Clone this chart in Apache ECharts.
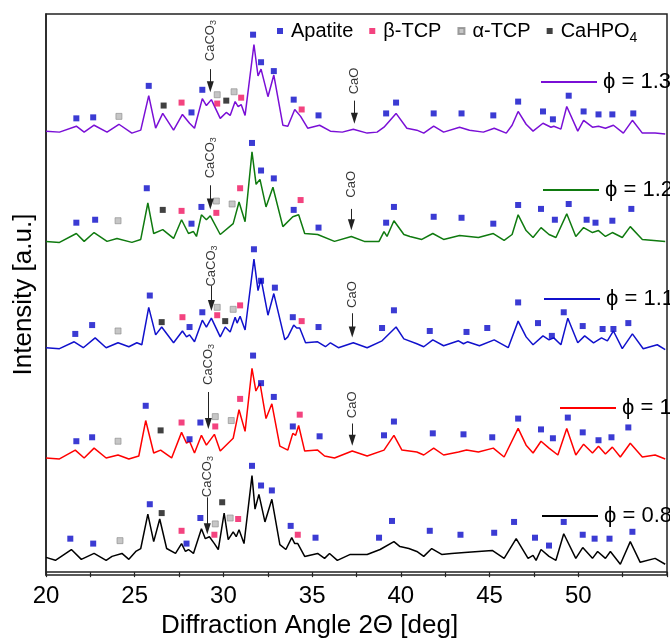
<!DOCTYPE html>
<html><head><meta charset="utf-8">
<script src="https://cdn.jsdelivr.net/npm/echarts@6/dist/echarts.min.js"></script>
<style>html,body{margin:0;padding:0;background:#fff}#c{width:670px;height:644px}</style>
</head><body><div id="c"></div>
<script>
// ---------- DATA (2θ in degrees, intensity in arbitrary units incl. stacking offset) ----------
const curve13 = [[20.0,448],[20.76,447],[21.71,453],[22.15,447],[22.71,454],[23.44,447],[24.11,455],[24.84,446],[25.34,449],[25.79,484],[26.18,451],[26.58,466],[27.19,449],[27.69,465],[28.09,456],[28.37,451],[28.81,481],[29.04,474],[29.32,480],[29.82,461],[30.16,467],[30.38,464],[30.66,478],[30.83,473],[31.00,475],[31.22,464],[31.72,536],[31.95,504],[32.12,511],[32.51,483],[32.84,505],[33.35,454],[33.63,453],[34.02,470],[34.35,463],[34.75,451],[35.42,454],[36.03,448],[36.70,447],[37.32,450],[38.10,446],[38.66,447],[39.05,452],[39.73,466],[40.34,451],[40.90,449],[41.29,446],[41.85,453],[42.41,447],[43.31,452],[43.87,449],[44.65,447],[45.26,451],[45.94,446],[46.27,454],[46.61,468],[47.06,455],[47.45,448],[48.01,456],[48.46,452],[48.62,453],[49.02,450],[49.35,473],[49.97,448],[50.30,459],[50.80,452],[51.14,453],[51.53,451],[51.98,454],[52.54,446],[53.05,459],[53.61,446],[54.33,446],[54.90,445]];
const curve12 = [[20.0,336],[20.76,335],[21.71,344],[22.15,336],[22.71,345],[23.44,336],[24.00,339],[24.84,335],[25.34,338],[25.74,375],[26.07,344],[26.58,348],[27.19,339],[27.64,358],[28.03,344],[28.31,346],[28.48,341],[28.76,363],[29.04,358],[29.26,362],[29.82,343],[30.55,354],[30.88,376],[31.22,356],[31.61,427],[31.84,394],[32.06,399],[32.40,371],[32.79,391],[33.35,351],[33.91,361],[34.02,359],[34.24,363],[34.58,344],[35.31,343],[36.26,336],[37.21,341],[37.94,336],[38.77,336],[39.05,346],[39.22,341],[39.61,357],[40.17,343],[40.51,341],[41.18,338],[41.80,344],[42.41,338],[43.31,342],[44.37,340],[45.21,344],[45.82,337],[46.27,343],[46.61,363],[47.06,347],[47.45,340],[47.90,350],[48.35,343],[48.74,340],[49.35,364],[49.86,341],[50.30,350],[50.80,345],[51.14,347],[51.53,341],[51.92,345],[52.48,340],[52.93,351],[53.61,338],[54.90,336]];
const curve11 = [[20.0,228],[20.76,227],[21.59,234],[22.10,228],[22.77,238],[23.39,228],[24.06,233],[24.67,229],[25.12,233],[25.40,231],[25.79,269],[26.18,241],[26.52,249],[27.19,233],[27.69,245],[27.92,239],[28.09,241],[28.37,234],[28.81,256],[29.04,249],[29.32,258],[29.82,239],[30.10,249],[30.38,244],[30.66,259],[30.77,253],[30.94,260],[31.22,246],[31.72,318],[31.95,286],[32.12,298],[32.51,261],[32.84,283],[33.46,236],[33.63,239],[33.96,251],[34.13,248],[34.30,248],[34.63,233],[35.31,234],[35.75,229],[36.03,233],[36.48,228],[37.32,233],[38.10,228],[38.94,235],[39.73,249],[40.17,237],[40.90,232],[41.29,229],[41.80,236],[42.41,230],[43.25,235],[43.53,232],[43.75,234],[44.43,230],[45.26,236],[46.05,228],[46.61,255],[47.06,239],[47.45,231],[48.01,240],[48.35,236],[48.62,238],[49.02,231],[49.41,258],[49.97,233],[50.36,240],[50.86,233],[51.31,238],[51.64,235],[51.98,245],[52.48,227],[53.05,242],[53.66,227],[54.45,231],[54.90,226]];
const curve10 = [[20.0,116],[20.76,115],[21.65,124],[22.15,116],[22.71,126],[23.39,116],[24.06,119],[24.67,115],[25.23,118],[25.62,154],[26.07,121],[26.46,124],[27.08,116],[27.64,142],[27.92,131],[28.09,133],[28.37,121],[28.76,139],[29.04,129],[29.49,140],[29.82,123],[30.55,136],[30.88,165],[31.22,143],[31.61,207],[31.83,184],[32.06,192],[32.40,156],[32.73,171],[33.18,128],[33.63,124],[33.91,141],[34.07,139],[34.24,149],[34.58,123],[35.31,124],[35.70,118],[36.26,116],[37.26,123],[38.10,118],[39.05,124],[39.61,139],[40.06,124],[40.90,122],[41.29,119],[41.85,126],[42.41,119],[43.25,122],[43.70,124],[44.37,122],[45.21,126],[45.82,117],[46.61,146],[47.06,129],[47.45,121],[47.90,133],[48.35,126],[48.85,119],[49.35,146],[49.86,119],[50.30,130],[50.80,121],[51.14,128],[51.53,120],[51.92,127],[52.37,117],[52.93,131],[53.61,117],[54.33,119],[54.90,115]];
const curve08 = [[20.0,15],[20.53,12],[21.43,23],[21.99,13],[22.71,19],[23.39,12],[23.72,16],[24.28,19],[24.67,13],[25.06,21],[25.34,24],[25.74,59],[26.07,31],[26.41,54],[26.80,24],[27.30,19],[27.64,29],[27.86,21],[28.03,23],[28.31,19],[28.76,44],[28.98,34],[29.21,36],[29.49,29],[29.71,23],[30.04,60],[30.27,33],[30.55,41],[30.72,36],[30.88,43],[31.16,29],[31.61,98],[31.78,64],[32.00,79],[32.34,51],[32.73,74],[33.18,28],[33.52,23],[33.85,35],[34.02,29],[34.19,29],[34.58,16],[35.31,19],[35.70,14],[35.98,19],[36.42,12],[37.15,18],[38.10,18],[38.83,23],[39.61,31],[39.95,26],[40.45,24],[40.90,21],[41.29,16],[41.74,24],[42.30,18],[42.86,19],[43.59,20],[44.37,21],[45.15,22],[45.82,14],[46.50,34],[47.17,14],[47.45,17],[47.62,12],[47.90,23],[48.35,16],[48.74,12],[49.18,39],[49.86,14],[50.25,25],[50.80,14],[51.09,21],[51.53,14],[51.81,21],[52.37,8],[52.93,31],[53.49,10],[54.33,14],[54.90,8]];

const seriesNames = ['ϕ = 1.3', 'ϕ = 1.2', 'ϕ = 1.1', 'ϕ = 1', 'ϕ = 0.8'];
const phaseNames = ['Apatite', 'β-TCP', 'α-TCP', 'CaHPO4'];

// phase markers [2θ, height]
const apatite = [
  // ϕ = 1.3
  [21.71,461],[22.66,462],[25.79,494],[28.20,467],[28.81,490],[31.67,546],[32.12,518],[32.84,509],[33.96,480],[35.36,464],[39.17,466],[39.73,477],[41.85,466],[43.42,466],[45.21,464],[46.61,478],[48.01,468],[48.57,460],[49.46,484],[50.30,468],[51.14,465],[51.92,465],[53.10,466],
  // ϕ = 1.2
  [21.71,355],[22.77,358],[25.68,390],[28.20,354],[28.76,371],[31.61,436],[32.12,408],[32.84,400],[33.96,368],[35.36,350],[39.17,355],[39.61,371],[41.85,361],[43.42,360],[45.21,354],[46.61,373],[47.90,369],[48.68,358],[49.46,374],[50.47,358],[50.97,355],[51.92,357],[52.99,369],
  // ϕ = 1.1
  [21.65,242],[22.60,251],[25.85,281],[28.09,249],[28.81,264],[31.72,328],[32.12,296],[32.90,289],[33.91,259],[35.36,249],[38.94,248],[39.61,266],[41.63,245],[43.70,244],[44.87,248],[46.61,274],[47.73,253],[48.51,240],[49.18,264],[50.25,250],[51.37,247],[51.98,247],[52.82,253],
  // ϕ = 1
  [21.71,133],[22.60,137],[25.62,169],[28.09,135],[28.70,152],[31.67,220],[32.12,192],[32.84,178],[33.91,148],[35.42,138],[39.05,139],[39.61,153],[41.80,141],[43.53,140],[45.15,137],[46.61,156],[47.90,145],[48.57,136],[49.41,157],[50.25,142],[51.14,134],[51.87,137],[52.82,147],
  // ϕ = 0.8
  [21.37,34],[22.66,29],[25.85,69],[27.92,29],[28.70,55],[31.61,108],[32.12,88],[32.73,83],[33.79,47],[35.19,35],[38.77,35],[39.50,52],[41.63,42],[43.36,38],[45.26,40],[46.38,51],[47.56,35],[48.35,27],[49.18,51],[50.25,38],[50.92,34],[51.76,34],[53.05,41]
];
const betaTCP = [
  [27.64,477],[29.65,476],[31.00,482],[34.41,470],
  [27.64,367],[29.60,365],[30.94,390],[34.35,378],
  [27.69,259],[29.65,261],[30.94,271],[34.41,255],
  [27.64,152],[29.54,148],[30.94,176],[34.30,160],
  [27.64,42],[29.49,38],[30.83,54],[34.19,38]
];
const alphaTCP = [
  [24.11,463],[29.65,485],[30.60,488],
  [24.06,357],[29.60,377],[30.49,374],
  [24.06,245],[29.65,269],[30.55,267],
  [24.06,133],[29.54,158],[30.44,154],
  [24.17,32],[29.54,49],[30.38,55]
];
const caHPO4 = [
  [26.63,474],[30.16,479],
  [26.58,368],
  [26.52,254],[30.10,255],
  [26.46,144],
  [26.52,60],[29.93,71]
];

// annotations: [2θ, label centre height, arrow start height, arrow tip height]
const caco3Marks = [[29.26,540,511,488],[29.26,421,393,369],[29.32,311,291,266],[29.15,211,183,146],[29.09,97,76,39]];
const caoMarks = [[37.38,499,479,456],[37.21,394,369,348],[37.26,282,263,239],[37.26,170,151,129]];

const xMin = 20, xMax = 55, xStep = 2.5;

// ---------- CHART ----------
const curves = [curve13, curve12, curve11, curve10, curve08];
const colors = ['#7A0FD6', '#0F7A0F', '#1111CC', '#FF0000', '#000000'];
const legendPos = [[536, 66], [538, 174], [539, 283], [555, 392], [537, 500]];
const FONT = '"Liberation Sans", Arial, "DejaVu Sans", sans-serif';

const chart = echarts.init(document.getElementById('c'), null, {renderer: 'canvas'});

const series = [];
curves.forEach((d, i) => {
  series.push({
    name: seriesNames[i], type: 'line', data: d, showSymbol: false, symbol: 'none',
    lineStyle: {color: colors[i], width: 1.5}, itemStyle: {color: colors[i]},
    z: 2, silent: true, animation: false
  });
});
const phaseData = [apatite, betaTCP, alphaTCP, caHPO4];
const phaseStyle = [
  {color: '#0A0AC8'},
  {color: '#F0145F'},
  {color: '#B8B8B8', borderColor: '#8A8A8A', borderWidth: 0.8},
  {color: '#111111'}
];
phaseData.forEach((d, i) => {
  series.push({
    name: phaseNames[i], type: 'scatter', data: d, symbol: 'rect', symbolSize: 6,
    itemStyle: phaseStyle[i], z: 3, silent: true, animation: false
  });
});

function annot(marks, text, rich) {
  return {
    type: 'scatter', name: text, data: marks.map(m => [m[0], m[1]]),
    symbolSize: 0, silent: true, animation: false, z: 4,
    label: {show: true, position: 'inside', rotate: 90, formatter: rich,
      fontFamily: FONT, fontSize: 13, color: '#000', lineHeight: 15,
      rich: {s: {fontSize: 9, lineHeight: 9, verticalAlign: 'bottom', fontFamily: FONT, color: '#000'}}},
    markLine: {
      silent: true, animation: false, symbol: ['none', 'triangle'], symbolSize: [7, 11],
      label: {show: false}, lineStyle: {color: '#222', width: 1, type: 'solid'},
      data: marks.map(m => [{coord: [m[0], m[2]]}, {coord: [m[0], m[3] + 5]}])
    }
  };
}
series.push(annot(caco3Marks, 'CaCO3', 'CaCO{s|3}'));
series.push(annot(caoMarks, 'CaO', 'CaO'));

const legends = [{
  data: phaseNames, left: 272, top: 16, orient: 'horizontal', icon: 'rect',
  itemWidth: 6, itemHeight: 6, itemGap: 16, selectedMode: false,
  formatter: n => n === 'CaHPO4' ? 'CaHPO{sub|4}' : n,
  textStyle: {fontFamily: FONT, fontSize: 20, color: '#000', padding: [0, 0, 0, 3],
    rich: {sub: {fontFamily: FONT, fontSize: 14, lineHeight: 14, verticalAlign: 'bottom', padding: [0, 0, -4, 0], color: '#000'}}}
}];
seriesNames.forEach((n, i) => {
  legends.push({
    data: [n], left: legendPos[i][0], top: legendPos[i][1], icon: 'rect',
    itemWidth: 56, itemHeight: 2, itemGap: 0, selectedMode: false,
    textStyle: {fontFamily: FONT, fontSize: 22, color: '#000', padding: [0, 0, 0, 1]}
  });
});

chart.setOption({
  animation: false,
  backgroundColor: '#fff',
  grid: {left: 46, top: 14, width: 626, height: 570, show: true, borderColor: '#222', borderWidth: 1.5, backgroundColor: 'transparent'},
  legend: legends,
  xAxis: {
    type: 'value', min: xMin, max: xMax, interval: xStep,
    name: 'Diffraction Angle 2Θ [deg]', nameLocation: 'middle', nameGap: 33,
    nameTextStyle: {fontFamily: FONT, fontSize: 26, color: '#000', padding: [0, 94, 0, 0]},
    axisLine: {show: true, lineStyle: {color: '#222', width: 1.5}},
    axisTick: {show: true, inside: false, length: 5, lineStyle: {color: '#222', width: 1.2}},
    axisLabel: {fontFamily: FONT, fontSize: 24, color: '#000', margin: 9,
      formatter: v => (v % 5 === 0 && v < xMax) ? String(v) : ''},
    splitLine: {show: false}
  },
  yAxis: {
    type: 'value', min: -3, max: 567,
    name: 'Intensity [a.u.]', nameLocation: 'middle', nameGap: 9,
    nameTextStyle: {fontFamily: FONT, fontSize: 26, color: '#000'},
    axisLine: {show: true, lineStyle: {color: '#222', width: 1.5}},
    axisTick: {show: false}, axisLabel: {show: false}, splitLine: {show: false}
  },
  series: series
});
</script></body></html>
